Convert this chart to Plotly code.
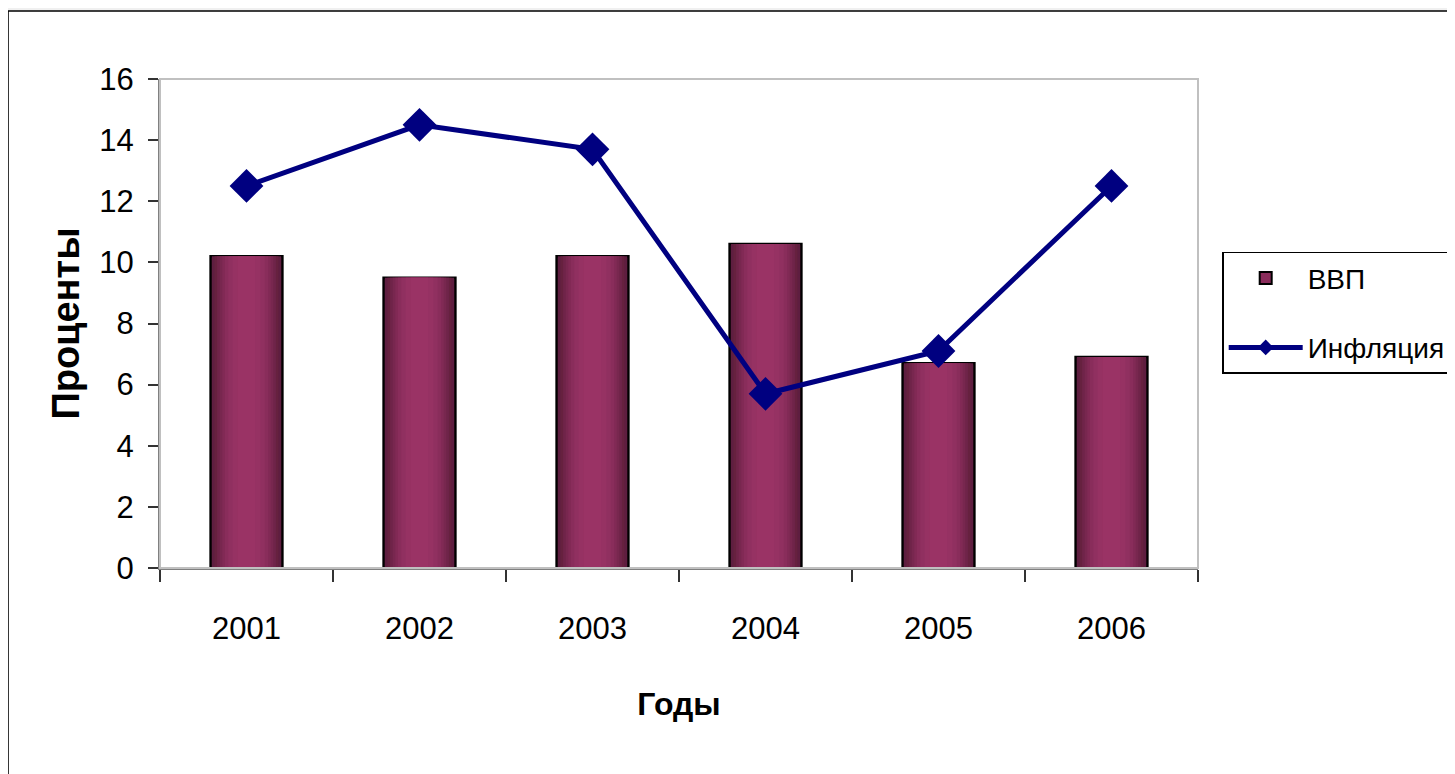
import plotly.graph_objects as go

years = ["2001", "2002", "2003", "2004", "2005", "2006"]
gdp = [10.2, 9.5, 10.2, 10.6, 6.7, 6.9]
inflation = [12.5, 14.5, 13.7, 5.7, 7.1, 12.5]
y_ticks = [0, 2, 4, 6, 8, 10, 12, 14, 16]

FONT = "Liberation Sans, Arial, sans-serif"

fig = go.Figure()

# main bars (with outline) and lighter inner layers to imitate the gradient
fig.add_trace(go.Bar(x=years, y=gdp, name="ВВП", width=0.415, legendgroup="g1",
                     marker=dict(color="#8a2c5b", line=dict(color="#000000", width=2.5))))
shades = [(0.40, "#5e1e40"), (0.37, "#66213f"), (0.34, "#6f2449"), (0.31, "#78274f"),
          (0.28, "#812a55"), (0.25, "#892d5b"), (0.21, "#903060"),
          (0.16, "#963263"), (0.10, "#9a3365")]
for w, c in shades:
    fig.add_trace(go.Bar(x=years, y=gdp, width=w, marker=dict(color=c, line=dict(width=0)),
                         showlegend=False, hoverinfo="skip"))

fig.add_trace(go.Scatter(x=years, y=inflation, name="Инфляция", mode="lines+markers",
                         legendgroup="g2",
                         line=dict(color="#000080", width=5),
                         marker=dict(symbol="diamond", size=26, color="#000080")))

fig.update_layout(
    width=1455, height=774,
    margin=dict(l=152, r=265, t=71, b=214),
    barmode="overlay",
    paper_bgcolor="#f0f0f0",
    plot_bgcolor="#ebebeb",
    font=dict(family=FONT, size=31, color="#000000"),
    showlegend=True,
    legend=dict(xref="container", yref="container", x=0.8345, y=0.685,
                xanchor="left", yanchor="top",
                bgcolor="#ffffff", bordercolor="#000000", borderwidth=1.5,
                font=dict(size=28, family=FONT), itemsizing="constant",
                itemwidth=74, tracegroupgap=30),
    xaxis=dict(type="category", tickson="boundaries", ticks="outside", ticklen=12,
               tickcolor="#333333", tickwidth=1.5, showgrid=False,
               showline=True, linecolor="#808080", linewidth=2,
               tickfont=dict(size=31), ticklabelstandoff=32,
               title=dict(text="<b>Годы</b>", font=dict(size=32), standoff=47),
               range=[-0.5, 5.5]),
    yaxis=dict(range=[0, 16], tickvals=y_ticks, ticks="outside", ticklen=10,
               tickcolor="#333333", tickwidth=1.5, showgrid=False, zeroline=False,
               showline=True, linecolor="#808080", linewidth=2,
               tickfont=dict(size=31), ticklabelstandoff=8,
               title=dict(text="<b>Проценты</b>", font=dict(size=38), standoff=8)),
    shapes=[
        dict(type="rect", xref="paper", yref="paper", x0=-0.1464, x1=1.4, y0=-0.6, y1=1.139,
             fillcolor="#ffffff", line=dict(color="#000000", width=1.5), layer="below"),
        dict(type="rect", xref="paper", yref="paper", x0=0, x1=1, y0=0, y1=1,
             line=dict(color="#c0c0c0", width=2), layer="above"),
    ],
)

fig.write_html("out.html")
